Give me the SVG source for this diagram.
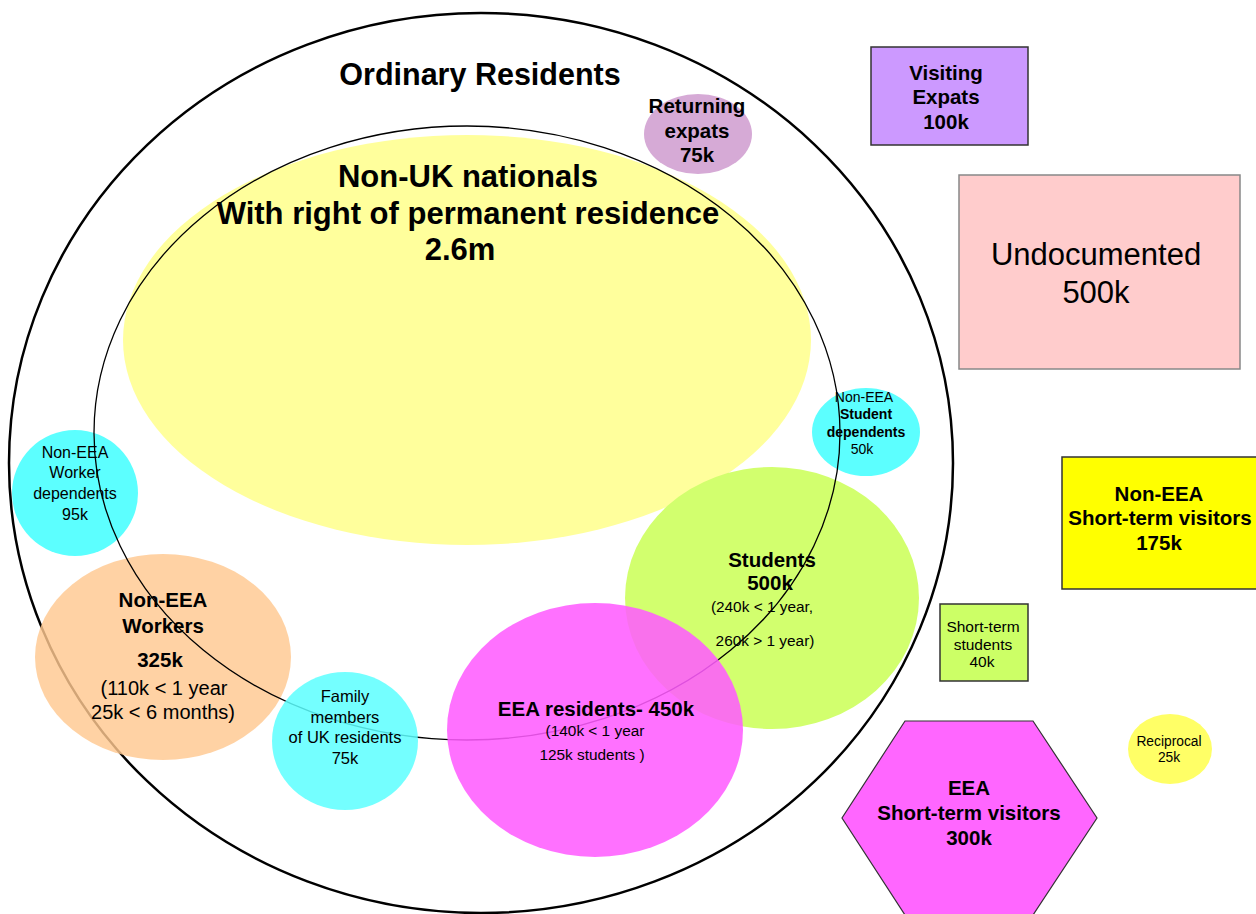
<svg xmlns="http://www.w3.org/2000/svg" width="1256" height="914" viewBox="0 0 1256 914">
<style>
text{font-family:"Liberation Sans",Arial,sans-serif;fill:#000;text-anchor:middle}
.b{font-weight:bold}
.box{stroke:#333;stroke-width:1.5}
</style>
<rect width="1256" height="914" fill="#fff"/>
<g id="worker-dependents">
<ellipse cx="75" cy="493" rx="63" ry="63" fill="#5cffff"/>
<text x="75" y="458" font-size="16">Non-EEA</text>
<text x="75" y="478" font-size="16">Worker</text>
<text x="75" y="499" font-size="16">dependents</text>
<text x="75" y="520" font-size="16">95k</text>
</g>
<g id="ordinary-residents">
<ellipse cx="481" cy="463" rx="472" ry="450" fill="none" stroke="#000" stroke-width="2.5"/>
<text x="480" y="85" font-size="30.5" class="b">Ordinary Residents</text>
</g>
<g id="non-eea-workers">
<ellipse cx="163" cy="657" rx="128" ry="103" fill="#ffc890" fill-opacity="0.82"/>
<text x="163" y="607" font-size="20.5" class="b">Non-EEA</text>
<text x="163" y="633" font-size="20.5" class="b">Workers</text>
<text x="160" y="667" font-size="20.5" class="b">325k</text>
<text x="164" y="695" font-size="20">(110k &lt; 1 year</text>
<text x="163" y="719" font-size="20">25k &lt; 6 months)</text>
</g>
<g id="non-uk-nationals">
<ellipse cx="467" cy="340" rx="344" ry="205" fill="#ffff9c"/>
<text x="468" y="187" font-size="31" class="b">Non-UK nationals</text>
<text x="468" y="224" font-size="31" class="b">With right of permanent residence</text>
<text x="460" y="260" font-size="31" class="b">2.6m</text>
</g>
<g id="students">
<ellipse cx="772" cy="598" rx="147" ry="131" fill="#d2ff6e"/>
<text x="772" y="567" font-size="20.5" class="b">Students</text>
<text x="770" y="590" font-size="20.5" class="b">500k</text>
<text x="762" y="612" font-size="15.4">(240k &lt; 1 year,</text>
<text x="765" y="646" font-size="15.4">260k &gt; 1 year)</text>
</g>
<g id="student-dependents">
<ellipse cx="866" cy="432" rx="54" ry="44" fill="#5cffff"/>
<text x="864" y="402" font-size="14">Non-EEA</text>
<text x="866" y="419" font-size="14" class="b">Student</text>
<text x="866" y="437" font-size="14" class="b">dependents</text>
<text x="862" y="454" font-size="14">50k</text>
</g>
<g id="resident-boundary">
<ellipse cx="467" cy="433" rx="373" ry="307" fill="none" stroke="#000" stroke-width="1.3"/>
</g>
<g id="family-members">
<ellipse cx="345" cy="741" rx="73" ry="69" fill="#5cffff" fill-opacity="0.85"/>
<text x="345" y="702" font-size="16.5">Family</text>
<text x="345" y="723" font-size="16.5">members</text>
<text x="345" y="743" font-size="16.5">of UK residents</text>
<text x="345" y="764" font-size="16.5">75k</text>
</g>
<g id="eea-residents">
<ellipse cx="595" cy="730" rx="148" ry="127" fill="#ff5cff" fill-opacity="0.87"/>
<text x="596" y="716" font-size="20.5" class="b">EEA residents- 450k</text>
<text x="595" y="736" font-size="15.4">(140k &lt; 1 year</text>
<text x="592" y="760" font-size="15.4">125k students )</text>
</g>
<g id="returning-expats">
<ellipse cx="698" cy="134" rx="54" ry="40" fill="#d6aad6"/>
<text x="697" y="113" font-size="20.5" class="b">Returning</text>
<text x="697" y="138" font-size="20.5" class="b">expats</text>
<text x="697" y="162" font-size="20.5" class="b">75k</text>
</g>
<g id="visiting-expats">
<rect x="871" y="47" width="157" height="98" fill="#cc99ff" class="box"/>
<text x="946" y="80" font-size="20.5" class="b">Visiting</text>
<text x="946" y="104" font-size="20.5" class="b">Expats</text>
<text x="946" y="129" font-size="20.5" class="b">100k</text>
</g>
<g id="undocumented">
<rect x="959" y="175" width="281" height="194" fill="#ffcccc" stroke="#888" stroke-width="1.5"/>
<text x="1096" y="265" font-size="31">Undocumented</text>
<text x="1096" y="303" font-size="31">500k</text>
</g>
<g id="non-eea-short-term-visitors">
<rect x="1062" y="457" width="200" height="132" fill="#ffff00" class="box"/>
<text x="1159" y="501" font-size="20.5" class="b">Non-EEA</text>
<text x="1160" y="525" font-size="20.5" class="b">Short-term visitors</text>
<text x="1159" y="550" font-size="20.5" class="b">175k</text>
</g>
<g id="short-term-students">
<rect x="940" y="604" width="88" height="77" fill="#ccff66" class="box"/>
<text x="983" y="632" font-size="15.5">Short-term</text>
<text x="983" y="650" font-size="15.5">students</text>
<text x="982" y="667" font-size="15.5">40k</text>
</g>
<g id="reciprocal">
<ellipse cx="1170" cy="749" rx="42" ry="35" fill="#ffff66"/>
<text x="1169" y="746" font-size="13.8">Reciprocal</text>
<text x="1169" y="762" font-size="13.8">25k</text>
</g>
<g id="eea-short-term-visitors">
<polygon points="905,721 1033,721 1097,818 1033,915 905,915 842,818" fill="#ff66ff" stroke="#333" stroke-width="1.2"/>
<text x="969" y="795" font-size="20.5" class="b">EEA</text>
<text x="969" y="820" font-size="20.5" class="b">Short-term visitors</text>
<text x="969" y="845" font-size="20.5" class="b">300k</text>
</g>
</svg>
